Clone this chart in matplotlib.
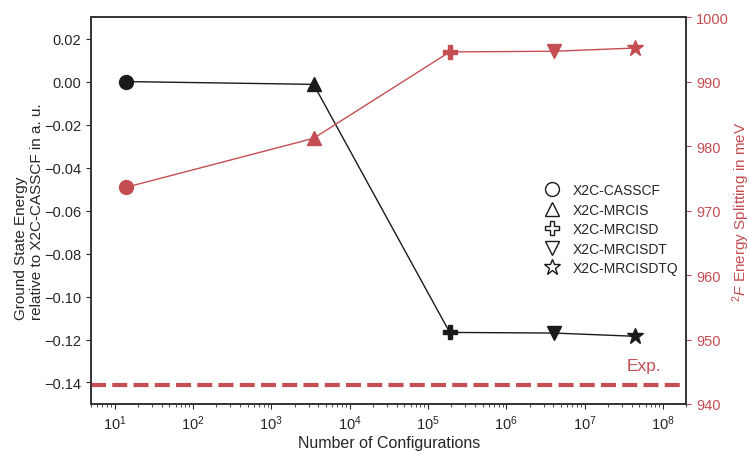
import numpy as np
import matplotlib
matplotlib.use("Agg")
import matplotlib.pyplot as plt
import matplotlib.ticker as mticker
import seaborn as sns

sns.set_style("ticks")
plt.rcParams['font.family'] = ['Liberation Sans', 'DejaVu Sans']
plt.rcParams['mathtext.fontset'] = 'custom'
plt.rcParams['mathtext.it'] = 'Liberation Sans:italic'
plt.rcParams['mathtext.rm'] = 'Liberation Sans'

methods = ["X2C-CASSCF", "X2C-MRCIS", "X2C-MRCISD", "X2C-MRCISDT", "X2C-MRCISDTQ"]
markers = ["o", "^", "P", "v", "*"]
n_configs = [14, 3470, 1.9e5, 4.1e6, 4.4e7]
ground_energy = [0.0, -0.0013, -0.1167, -0.1170, -0.1185]
splitting = [973.6, 981.2, 994.6, 994.7, 995.2]
exp_splitting = 943.0

red = "#C44E52"
black = "#1a1a1a"

fig = plt.figure(figsize=(7.49, 4.52), dpi=100)
ax = fig.add_axes([0.1215, 0.104, 0.795, 0.856])
ax2 = ax.twinx()

ax.plot(n_configs, ground_energy, color=black, lw=1.0, zorder=2)
ax2.plot(n_configs, splitting, color=red, lw=1.0, zorder=2)
for x, e, s, m in zip(n_configs, ground_energy, splitting, markers):
    ms = 12 if m == "*" else 10
    ax.plot(x, e, marker=m, color=black, ms=ms, ls="none", zorder=3)
    ax2.plot(x, s, marker=m, color=red, ms=ms, ls="none", zorder=3)

ax2.axhline(exp_splitting, color=red, lw=3, ls=(0, (3.6, 1.5)))
ax2.text(9.5e7, 944.8, "Exp.", color=red, fontsize=12.5, ha="right", va="bottom")

ax.set_xscale("log")
ax.set_xlim(5, 2e8)
ax.xaxis.set_minor_formatter(mticker.NullFormatter())
ax.set_ylim(-0.15, 0.03)
yt = np.arange(-0.14, 0.021, 0.02)
ax.set_yticks(yt)
ax.set_yticklabels([f"{v:.2f}".replace("-", "\u2212") for v in yt])
ax2.set_ylim(940, 1000)
ax2.set_yticks(np.arange(940, 1001, 10))

ax.set_xlabel("Number of Configurations", fontsize=11.5, labelpad=2)
ax.set_ylabel("Ground State Energy\nrelative to X2C-CASSCF in a. u.", fontsize=11,
              multialignment="left")
ax.yaxis.set_label_coords(-0.079, 0.5)
ax2.set_ylabel("$^2F$ Energy Splitting in meV", fontsize=11, color=red, labelpad=1)

ax.tick_params(labelsize=10.5)
ax2.tick_params(axis="y", labelsize=10.5, colors=red)
for a in (ax, ax2):
    for sp in a.spines.values():
        sp.set_color("#333333")
        sp.set_linewidth(1.2)

handles = [plt.Line2D([], [], marker=m, ls="none", mfc="white", mec=black, mew=1.0,
                      ms=(12 if m == "*" else 10), color=black) for m in markers]
ax2.legend(handles, methods, loc="center left", bbox_to_anchor=(0.73, 0.452),
           frameon=False, fontsize=10, handletextpad=0.5, labelspacing=0.4)

fig.savefig("out.png", dpi=100)
